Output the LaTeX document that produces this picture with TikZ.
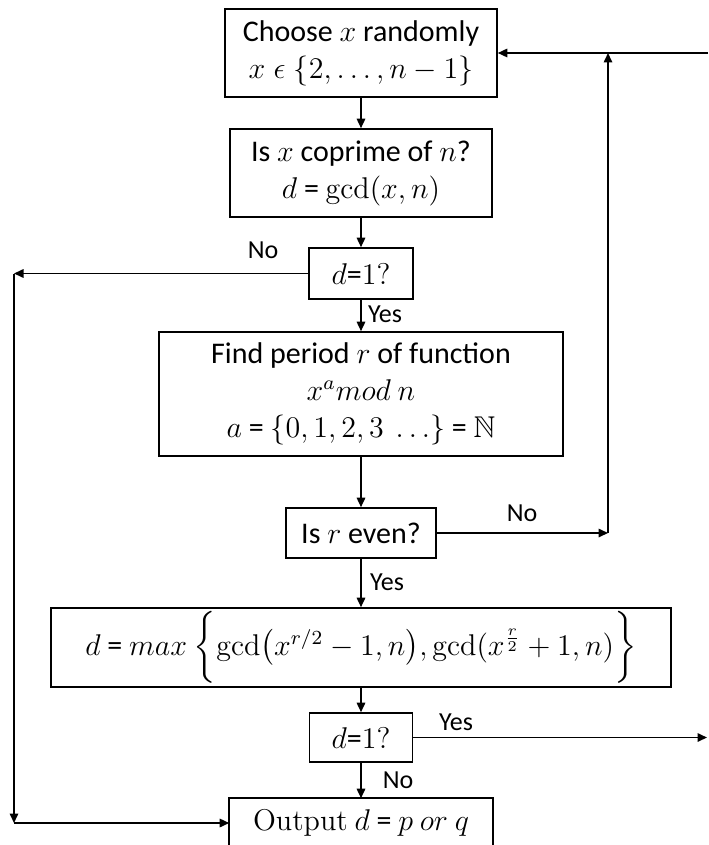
\documentclass[tikz,border=0pt]{standalone}
\usepackage{amsmath,amssymb}
\usepackage{fontspec}
\newfontfamily\calibri{Carlito}
\usetikzlibrary{arrows.meta}
\tikzset{
  box/.style={draw=black, line width=0.64pt, inner sep=0pt, align=center,
    font=\calibri\fontsize{12}{14.8}\selectfont},
  lbl/.style={inner sep=0pt, font=\calibri\fontsize{10.4}{12}\selectfont},
  arr/.style={-{Triangle[length=3.8pt,width=3.4pt]}, line width=0.64pt}
}
\begin{document}
\begin{tikzpicture}[x=0.4pt,y=-0.4pt]
\clip (0,0) rectangle (708,845);
\fill[white] (0,0) rectangle (708,845);

\node[box, minimum width=108.8pt, minimum height=35.2pt] (b1) at (361,53)
  {Choose $x$ randomly\\ $x\;\epsilon\;\{2, \ldots, n-1\}$};
\node[box, minimum width=104.8pt, minimum height=35.2pt] (b2) at (361,173)
  {Is $x$ coprime of $n$?\\ $d$ = $\gcd(x, n)$};
\node[box, minimum width=41.6pt, minimum height=20.4pt] (c1) at (361,273.5)
  {$d$={\rmfamily 1?}};
\node[box, minimum width=161.6pt, minimum height=49.6pt] (b3) at (361,394)
  {Find period $r$ of function\\ $x^a mod\ n$\\ $a$ = $\{0, 1, 2, 3\ \ldots\}$ = $\mathbb{N}$};
\node[box, minimum width=60pt, minimum height=20pt] (c2) at (361,533)
  {Is $r$ even?};
\node[box, minimum width=248pt, minimum height=31.6pt] (b4) at (361,647.5)
  {$d$ = $max\ \biggl\{\gcd\bigl(x^{r/2}-1, n\bigr), \gcd(x^{\frac{r}{2}}+1, n)\biggr\}$};
\node[box, minimum width=41.2pt, minimum height=19.6pt] (c3) at (361,737.5)
  {$d$={\rmfamily 1?}};
\node[box, draw=none, minimum width=104.8pt, minimum height=19.2pt] (out) at (361,823)
  {{\rmfamily Output} $d$ = $p\ or\ q$};
\draw[line width=0.64pt] ([yshift=-10pt]out.south west) -- (out.north west)
  -- (out.north east) -- ([yshift=-10pt]out.south east);

\node[lbl] (l1) at (263,250) {No};
\node[lbl] (l2) at (385,314) {Yes};
\node[lbl] (l3) at (522,513) {No};
\node[lbl] (l4) at (387,582) {Yes};
\node[lbl] (l5) at (456,722) {Yes};
\node[lbl] (l6) at (398,780) {No};

\coordinate (R1) at (708,53);
\coordinate (J1) at (608,533);
\coordinate (J2) at (608,53);
\coordinate (L1) at (14,273.5);
\coordinate (L2) at (14,823);
\coordinate (E1) at (707,737.5);

\draw[arr] (b1) -- (b2);
\draw[arr] (b2) -- (c1);
\draw[arr] (c1) -- (b3);
\draw[arr] (b3) -- (c2);
\draw[arr] (c2) -- (b4);
\draw[arr] (b4) -- (c3);
\draw[arr] (c3) -- (out);

\draw[arr] (R1) -- (b1.east);
\draw[arr] (c2.east) -- (J1);
\draw[arr] (J1) -- (J2);
\draw[arr] (c1.west) -- (L1);
\draw[arr] (L1) -- (L2);
\draw[arr] (L2) -- (out.west);
\draw[arr] (c3.east) -- (E1);
\end{tikzpicture}
\end{document}
